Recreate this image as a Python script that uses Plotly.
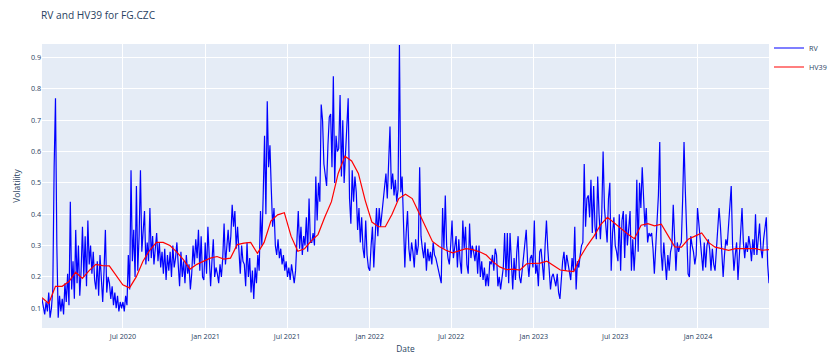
import pandas as pd
import plotly.graph_objects as go

title_text = "RV and HV39 for FG.CZC"
start_date = "2020-01-03"
end_date = "2024-06-07"

rv_2020 = [
    0.13, 0.11, 0.08, 0.12, 0.09, 0.15, 0.07, 0.10, 0.16, 0.55,
    0.77, 0.30, 0.07, 0.14, 0.09, 0.13, 0.08, 0.18, 0.12, 0.21,
    0.11, 0.44, 0.16, 0.25, 0.13, 0.35, 0.18, 0.30, 0.14, 0.22,
    0.36, 0.20, 0.33, 0.17, 0.38, 0.24, 0.30, 0.21, 0.28, 0.19,
    0.16, 0.25, 0.14, 0.27, 0.18, 0.12, 0.22, 0.35, 0.15, 0.20,
    0.18, 0.13, 0.17, 0.11, 0.15, 0.10, 0.14, 0.09, 0.12, 0.10,
    0.12, 0.09, 0.14, 0.11, 0.27, 0.16, 0.54, 0.25, 0.35, 0.20,
    0.49, 0.22, 0.33, 0.54, 0.28, 0.36, 0.41, 0.24, 0.31, 0.25,
    0.42, 0.26, 0.33, 0.24, 0.30, 0.34, 0.25, 0.31, 0.23, 0.28,
    0.21, 0.29, 0.19, 0.27, 0.22, 0.28, 0.20, 0.30, 0.23, 0.26,
    0.31, 0.22, 0.17, 0.28, 0.20, 0.25, 0.18, 0.27, 0.21, 0.24,
    0.16, 0.21, 0.30, 0.24, 0.32, 0.26, 0.35, 0.22, 0.33, 0.20,
]
rv_2021 = [
    0.19, 0.31, 0.21, 0.36, 0.26, 0.17, 0.25, 0.32, 0.20, 0.23,
    0.21, 0.18, 0.24, 0.20, 0.26, 0.37, 0.24, 0.29, 0.35, 0.28,
    0.33, 0.43, 0.36, 0.41, 0.29, 0.36, 0.26, 0.21, 0.30, 0.25,
    0.24, 0.17, 0.31, 0.20, 0.26, 0.15, 0.22, 0.13, 0.23, 0.18,
    0.27, 0.22, 0.41, 0.30, 0.46, 0.65, 0.40, 0.76, 0.55, 0.62,
    0.48, 0.36, 0.42, 0.30, 0.27, 0.32, 0.26, 0.29, 0.24, 0.27,
    0.22, 0.25, 0.20, 0.23, 0.19, 0.24, 0.21, 0.18, 0.22, 0.30,
    0.41, 0.29, 0.36, 0.27, 0.33, 0.30, 0.39, 0.28, 0.45, 0.31,
    0.31, 0.34, 0.30, 0.52, 0.38, 0.50, 0.44, 0.75, 0.70, 0.56,
    0.53, 0.49, 0.62, 0.71, 0.72, 0.55, 0.84, 0.50, 0.65, 0.60,
    0.61, 0.78, 0.52, 0.70, 0.50, 0.60, 0.66, 0.77, 0.45, 0.37,
    0.54, 0.44, 0.52, 0.47, 0.35, 0.42, 0.31, 0.39, 0.29, 0.26,
]
rv_2022 = [
    0.38, 0.27, 0.23, 0.22, 0.30, 0.36, 0.23, 0.34, 0.42, 0.33,
    0.42, 0.36, 0.40, 0.44, 0.47, 0.53, 0.45, 0.60, 0.68, 0.48,
    0.53, 0.46, 0.51, 0.44, 0.48, 0.94, 0.47, 0.52, 0.33, 0.23,
    0.34, 0.41, 0.29, 0.25, 0.31, 0.28, 0.23, 0.32, 0.27, 0.30,
    0.55, 0.33, 0.29, 0.26, 0.31, 0.22, 0.29, 0.25, 0.28, 0.24,
    0.31, 0.27, 0.26, 0.24, 0.22, 0.21, 0.18, 0.42, 0.29, 0.46,
    0.30, 0.26, 0.24, 0.30, 0.38, 0.26, 0.30, 0.33, 0.23, 0.32,
    0.25, 0.21, 0.38, 0.29, 0.36, 0.24, 0.21, 0.37, 0.26, 0.30,
    0.28, 0.25, 0.30, 0.21, 0.30, 0.20, 0.25, 0.19, 0.23, 0.17,
    0.21, 0.17, 0.25, 0.24, 0.27, 0.22, 0.29, 0.27, 0.17, 0.20,
    0.16, 0.19, 0.23, 0.34, 0.20, 0.34, 0.18, 0.34, 0.26, 0.16,
    0.26, 0.19, 0.28, 0.33, 0.20, 0.18, 0.22, 0.27, 0.31, 0.35,
]
rv_2023 = [
    0.25, 0.20, 0.26, 0.27, 0.23, 0.38, 0.21, 0.24, 0.17, 0.28,
    0.29, 0.23, 0.19, 0.30, 0.38, 0.29, 0.23, 0.16, 0.20, 0.21,
    0.19, 0.17, 0.21, 0.15, 0.13, 0.21, 0.25, 0.28, 0.22, 0.27,
    0.24, 0.21, 0.19, 0.26, 0.22, 0.36, 0.16, 0.25, 0.23, 0.27,
    0.30, 0.31, 0.56, 0.36, 0.45, 0.46, 0.39, 0.51, 0.34, 0.49,
    0.36, 0.32, 0.52, 0.40, 0.32, 0.40, 0.60, 0.42, 0.35, 0.31,
    0.45, 0.50, 0.22, 0.34, 0.39, 0.30, 0.28, 0.25, 0.40, 0.22,
    0.38, 0.41, 0.26, 0.40, 0.30, 0.35, 0.41, 0.22, 0.32, 0.22,
    0.30, 0.51, 0.28, 0.50, 0.42, 0.55, 0.44, 0.36, 0.42, 0.31,
    0.34, 0.33, 0.34, 0.29, 0.21, 0.30, 0.40, 0.46, 0.63, 0.28,
    0.22, 0.31, 0.25, 0.19, 0.27, 0.22, 0.28, 0.30, 0.43, 0.32,
    0.22, 0.31, 0.28, 0.30, 0.31, 0.45, 0.63, 0.47, 0.30, 0.21,
]
rv_2024 = [
    0.20, 0.33, 0.30, 0.28, 0.24, 0.27, 0.42, 0.37, 0.32, 0.26,
    0.22, 0.31, 0.23, 0.30, 0.32, 0.29, 0.22, 0.29, 0.24, 0.22,
    0.30, 0.36, 0.42, 0.36, 0.28, 0.20, 0.27, 0.32, 0.30, 0.36,
    0.41, 0.49, 0.30, 0.22, 0.27, 0.31, 0.19, 0.28, 0.35, 0.42,
    0.31, 0.26, 0.31, 0.28, 0.33, 0.30, 0.25, 0.32, 0.27, 0.40,
    0.27, 0.31, 0.37, 0.29, 0.26, 0.32, 0.36, 0.39, 0.24, 0.18,
]

hv_2020 = [0.134, 0.115, 0.17, 0.17, 0.185, 0.215, 0.195, 0.22, 0.24, 0.236,
           0.235, 0.205, 0.175, 0.165, 0.20, 0.25, 0.285, 0.31, 0.31, 0.30,
           0.28, 0.255, 0.225, 0.24]
hv_2021 = [0.25, 0.26, 0.265, 0.257, 0.26, 0.303, 0.308, 0.31, 0.275, 0.31,
           0.378, 0.398, 0.405, 0.33, 0.282, 0.29, 0.315, 0.335, 0.39, 0.44,
           0.53, 0.585, 0.57, 0.53, 0.445, 0.375]
hv_2022 = [0.36, 0.36, 0.40, 0.45, 0.464, 0.45, 0.405, 0.36, 0.313, 0.297,
           0.285, 0.277, 0.283, 0.29, 0.287, 0.28, 0.27, 0.248, 0.232, 0.223,
           0.225, 0.222, 0.242, 0.243, 0.244, 0.25, 0.236, 0.222, 0.219, 0.217]
hv_2023 = [0.265, 0.30, 0.33, 0.367, 0.39, 0.372, 0.355, 0.337, 0.322, 0.365,
           0.37, 0.363, 0.368, 0.33, 0.296, 0.295, 0.32, 0.33, 0.34, 0.31]
hv_2024 = [0.295, 0.29, 0.285, 0.29, 0.29, 0.29, 0.29, 0.285, 0.287]

rv = rv_2020 + rv_2021 + rv_2022 + rv_2023 + rv_2024
hv39 = hv_2020 + hv_2021 + hv_2022 + hv_2023 + hv_2024

rv_dates = pd.date_range(start_date, end_date, periods=len(rv))
hv_dates = pd.date_range(start_date, end_date, periods=len(hv39))

S = 0.6  # figure drawn at reduced scale

fig = go.Figure()
fig.add_trace(go.Scatter(x=rv_dates, y=rv, mode="lines", name="RV",
                         line=dict(color="blue", width=1.2)))
fig.add_trace(go.Scatter(x=hv_dates, y=hv39, mode="lines", name="HV39",
                         line=dict(color="red", width=1.2)))

fig.update_layout(
    template="plotly",
    width=824, height=348,
    margin=dict(l=34, r=63, t=36, b=28, autoexpand=False),
    title=dict(text=title_text, x=33 / 824, xanchor="left", y=1 - 7 / 348, yanchor="middle",
               font=dict(size=17 * S)),
    font=dict(size=12 * S),
    legend=dict(font=dict(size=12 * S), x=1.0, xanchor="left", y=1.037, yanchor="top",
                itemwidth=30),
    xaxis=dict(title=dict(text="Date", font=dict(size=14 * S), standoff=5),
               automargin=False, ticklabelstandoff=3,
               tickformat="%b %Y", dtick="M6", tick0="2020-01-01",
               tickfont=dict(size=12 * S)),
    yaxis=dict(title=dict(text="Volatility", font=dict(size=14 * S), standoff=8),
               automargin=False,
               range=[0.037, 0.943], dtick=0.1, tickfont=dict(size=12 * S)),
)

fig.write_html("out.html")
